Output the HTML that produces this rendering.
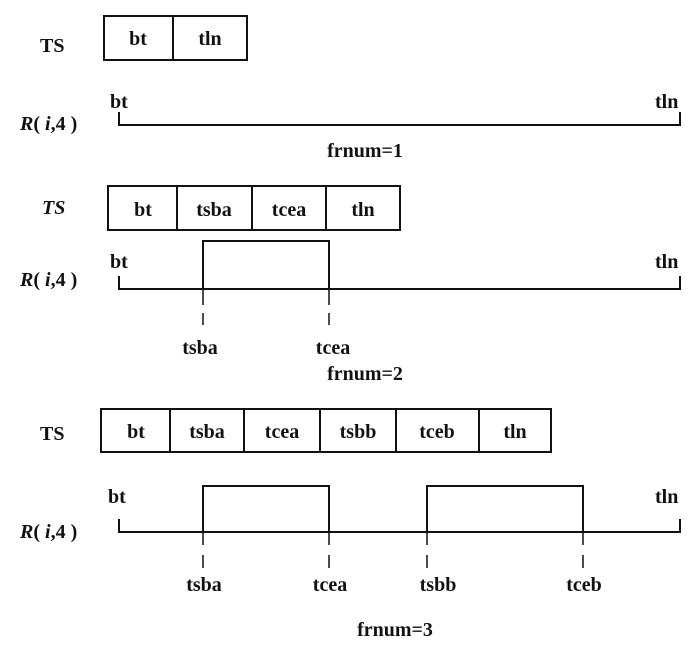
<!DOCTYPE html>
<html><head><meta charset="utf-8"><style>
html,body{margin:0;padding:0;background:#fff}
svg text{font-family:"Liberation Serif",serif;font-size:20px;font-weight:bold;fill:#111}
</style></head><body>
<svg width="700" height="652" viewBox="0 0 700 652" xmlns="http://www.w3.org/2000/svg">
<g stroke="#111" stroke-width="2" fill="none">
<!-- diagram 1 -->
<rect x="104" y="16" width="143" height="44"/>
<line x1="173" y1="16" x2="173" y2="60"/>
<polyline points="119,112 119,125 680,125 680,112"/>
<!-- diagram 2 -->
<rect x="108" y="186" width="292" height="44"/>
<line x1="177" y1="186" x2="177" y2="230"/>
<line x1="252" y1="186" x2="252" y2="230"/>
<line x1="326" y1="186" x2="326" y2="230"/>
<polyline points="119,276 119,289 680,289 680,276"/>
<polyline points="203,289 203,241 329,241 329,289"/>
<line x1="203" y1="289" x2="203" y2="305" stroke-width="1.5"/>
<line x1="203" y1="313" x2="203" y2="325" stroke-width="1.5"/>
<line x1="329" y1="289" x2="329" y2="305" stroke-width="1.5"/>
<line x1="329" y1="313" x2="329" y2="325" stroke-width="1.5"/>
<!-- diagram 3 -->
<rect x="101" y="409" width="450" height="43"/>
<line x1="170" y1="409" x2="170" y2="452"/>
<line x1="244" y1="409" x2="244" y2="452"/>
<line x1="320" y1="409" x2="320" y2="452"/>
<line x1="396" y1="409" x2="396" y2="452"/>
<line x1="479" y1="409" x2="479" y2="452"/>
<polyline points="119,519 119,532 680,532 680,519"/>
<polyline points="203,532 203,486 329,486 329,532"/>
<polyline points="427,532 427,486 583,486 583,532"/>
<g stroke-width="1.5">
<line x1="203" y1="532" x2="203" y2="545"/><line x1="203" y1="555" x2="203" y2="568"/>
<line x1="329" y1="532" x2="329" y2="545"/><line x1="329" y1="555" x2="329" y2="568"/>
<line x1="427" y1="532" x2="427" y2="545"/><line x1="427" y1="555" x2="427" y2="568"/>
<line x1="583" y1="532" x2="583" y2="545"/><line x1="583" y1="555" x2="583" y2="568"/>
</g>
</g>
<!-- text diagram 1 -->
<text x="40" y="52">TS</text>
<text x="138" y="45" text-anchor="middle">bt</text>
<text x="210" y="45" text-anchor="middle">tln</text>
<text x="110" y="108">bt</text>
<text x="655" y="108">tln</text>
<text x="20" y="130" font-size="21"><tspan font-style="italic">R</tspan>( <tspan font-style="italic">i</tspan>,4 )</text>
<text x="365" y="157" text-anchor="middle">frnum=1</text>
<!-- text diagram 2 -->
<text x="42" y="214" font-style="italic">TS</text>
<text x="143" y="216" text-anchor="middle">bt</text>
<text x="214" y="216" text-anchor="middle">tsba</text>
<text x="289" y="216" text-anchor="middle">tcea</text>
<text x="363" y="216" text-anchor="middle">tln</text>
<text x="110" y="268">bt</text>
<text x="655" y="268">tln</text>
<text x="20" y="286" font-size="21"><tspan font-style="italic">R</tspan>( <tspan font-style="italic">i</tspan>,4 )</text>
<text x="200" y="354" text-anchor="middle">tsba</text>
<text x="333" y="354" text-anchor="middle">tcea</text>
<text x="365" y="380" text-anchor="middle">frnum=2</text>
<!-- text diagram 3 -->
<text x="40" y="440">TS</text>
<text x="136" y="438" text-anchor="middle">bt</text>
<text x="207" y="438" text-anchor="middle">tsba</text>
<text x="282" y="438" text-anchor="middle">tcea</text>
<text x="358" y="438" text-anchor="middle">tsbb</text>
<text x="437" y="438" text-anchor="middle">tceb</text>
<text x="515" y="438" text-anchor="middle">tln</text>
<text x="108" y="503">bt</text>
<text x="655" y="503">tln</text>
<text x="20" y="538" font-size="21"><tspan font-style="italic">R</tspan>( <tspan font-style="italic">i</tspan>,4 )</text>
<text x="204" y="591" text-anchor="middle">tsba</text>
<text x="330" y="591" text-anchor="middle">tcea</text>
<text x="438" y="591" text-anchor="middle">tsbb</text>
<text x="584" y="591" text-anchor="middle">tceb</text>
<text x="395" y="636" text-anchor="middle">frnum=3</text>
</svg>
</body></html>
